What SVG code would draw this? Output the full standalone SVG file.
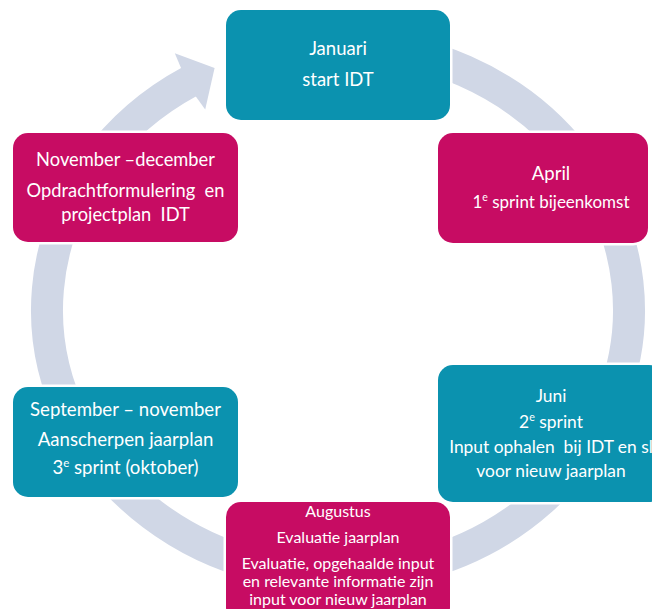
<svg xmlns="http://www.w3.org/2000/svg" width="652" height="609" viewBox="0 0 652 609">
<style>
.teal{fill:#0B92AF;stroke:#fff;stroke-width:5;paint-order:stroke}
.mag{fill:#C70C63;stroke:#fff;stroke-width:5;paint-order:stroke}
text{font-family:Lato,"Liberation Sans",sans-serif;fill:#fff;text-anchor:middle;white-space:pre}
.s{font-size:0.62em}
</style>
<rect width="652" height="609" fill="#fff"/>
<g id="connectors">
<path d="M338,44.5 A291,265.5 0 1 1 190,81.4" fill="none" stroke="#D0D7E6" stroke-width="32"/>
<polygon points="205.2,109.6 214.6,68.1 174.8,53.2 180.4,66.6 194.6,94.8" fill="#D0D7E6"/>
</g>
<g id="januari">
<rect class="teal" x="226" y="10" width="224" height="110" rx="15"/>
<text x="338" y="55" font-size="18.5">Januari</text>
<text x="338" y="86" font-size="18.5">start IDT</text>
</g>
<g id="april">
<rect class="mag" x="438" y="133" width="210" height="110" rx="15"/>
<text x="551" y="180" font-size="18.5">April</text>
<text x="551" y="208" font-size="17">1<tspan class="s" dy="-7">e</tspan><tspan dy="7"> sprint bijeenkomst</tspan></text>
</g>
<g id="juni">
<rect class="teal" x="438" y="365" width="226" height="137" rx="15"/>
<text x="551" y="401.5" font-size="17.4">Juni</text>
<text x="551" y="428" font-size="17.4">2<tspan class="s" dy="-7">e</tspan><tspan dy="7"> sprint</tspan></text>
<text x="551" y="452.5" font-size="17.4">Input ophalen  bij IDT en sl</text>
<text x="551" y="476.5" font-size="17.4">voor nieuw jaarplan</text>
</g>
<g id="augustus">
<rect class="mag" x="226" y="502" width="224" height="120" rx="15"/>
<text x="338" y="517" font-size="16">Augustus</text>
<text x="338" y="543" font-size="16">Evaluatie jaarplan</text>
<text x="338" y="569" font-size="16">Evaluatie, opgehaalde input</text>
<text x="338" y="587" font-size="16">en relevante informatie zijn</text>
<text x="338" y="605" font-size="16">input voor nieuw jaarplan</text>
</g>
<g id="september">
<rect class="teal" x="13" y="387" width="225" height="110" rx="15"/>
<text x="125.5" y="416" font-size="18.6">September – november</text>
<text x="125.5" y="446" font-size="18.6">Aanscherpen jaarplan</text>
<text x="125.5" y="474" font-size="18.6">3<tspan class="s" dy="-7">e</tspan><tspan dy="7"> sprint (oktober)</tspan></text>
</g>
<g id="november">
<rect class="mag" x="13" y="133" width="225" height="109" rx="15"/>
<text x="125.5" y="166" font-size="18.3">November –december</text>
<text x="125.5" y="197" font-size="18.3">Opdrachtformulering  en</text>
<text x="125.5" y="221" font-size="18.3">projectplan  IDT</text>
</g>
</svg>
